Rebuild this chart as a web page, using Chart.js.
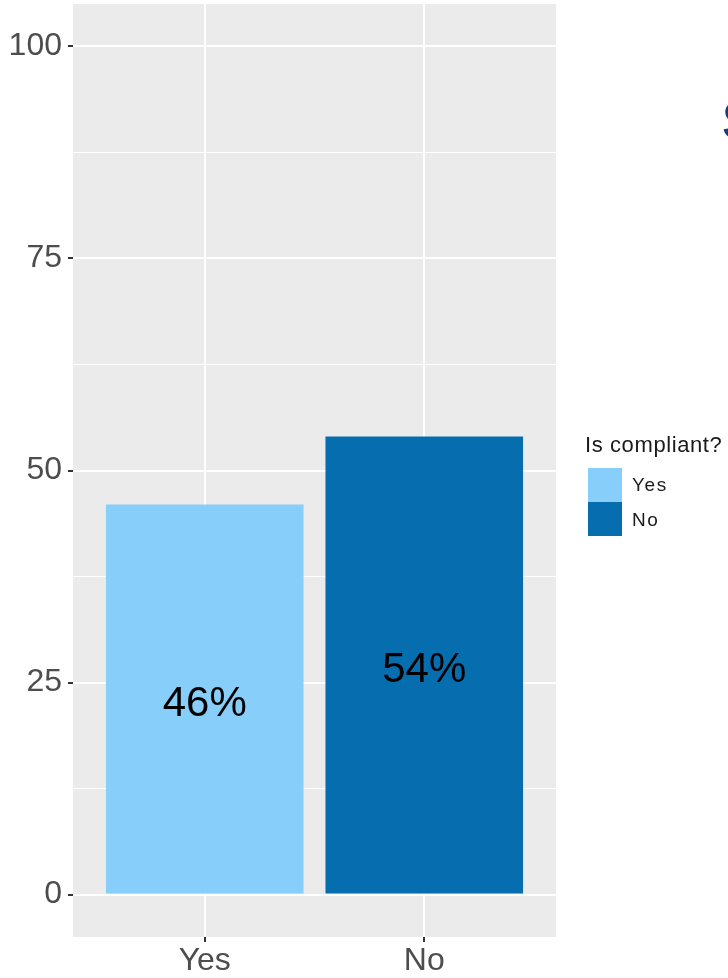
<!DOCTYPE html>
<html>
<head>
<meta charset="utf-8">
<script src="https://cdn.jsdelivr.net/npm/chart.js@4/dist/chart.umd.min.js"></script>
<style>
  html, body { margin: 0; padding: 0; background: #ffffff; }
  #wrap { position: relative; width: 728px; height: 978px; overflow: hidden; }
  #c { position: absolute; left: 0; top: 0; }
  .lg { position: absolute; font-family: "Liberation Sans", Arial, sans-serif; color: #1a1a1a; white-space: nowrap; }
  .sw { position: absolute; width: 34px; height: 34px; }
  #cut { position: absolute; left: 722px; top: 93px; font: bold 54px/54px "Liberation Sans", Arial, sans-serif; color: #1B3A7E; }
</style>
</head>
<body>
<div id="wrap">
  <canvas id="c" width="728" height="978"></canvas>
  <div id="cut">S</div>
  <div id="legend"></div>
</div>
<script>
// ---- data ----
const categories = ['Yes', 'No'];
const values = [46, 54];
const barColors = ['#87CEFA', '#066DAE'];
const legendTitle = 'Is compliant?';
const yMajorTicks = [0, 25, 50, 75, 100];
const yMinorTicks = [12.5, 37.5, 62.5, 87.5];

const FONT = '"Liberation Sans", Arial, sans-serif';

// legend (HTML)
(function () {
  const lg = document.getElementById('legend');
  const t = document.createElement('div');
  t.className = 'lg';
  t.style.cssText = 'left:585px;top:432px;font-size:22px;letter-spacing:0.6px;';
  t.textContent = legendTitle;
  lg.appendChild(t);
  categories.forEach((c, i) => {
    const s = document.createElement('div');
    s.className = 'sw';
    s.style.left = '588px';
    s.style.top = (468 + i * 34) + 'px';
    s.style.background = barColors[i];
    lg.appendChild(s);
    const l = document.createElement('div');
    l.className = 'lg';
    l.style.cssText = 'left:632px;font-size:19px;line-height:20px;letter-spacing:1.6px;';
    l.style.top = (475 + i * 35) + 'px';
    l.textContent = c;
    lg.appendChild(l);
  });
})();

const panelBg = {
  id: 'panelBg',
  beforeDraw(chart) {
    const a = chart.chartArea, ctx = chart.ctx;
    ctx.save();
    ctx.fillStyle = '#EBEBEB';
    ctx.fillRect(a.left, a.top, a.right - a.left, a.bottom - a.top);
    ctx.restore();
  }
};

const barLabels = {
  id: 'barLabels',
  afterDatasetsDraw(chart) {
    const ctx = chart.ctx, meta = chart.getDatasetMeta(0), ys = chart.scales.y;
    ctx.save();
    ctx.font = '42px ' + FONT;
    ctx.fillStyle = '#000000';
    ctx.textAlign = 'center';
    ctx.textBaseline = 'middle';
    meta.data.forEach((el, i) => {
      ctx.fillText(values[i] + '%', el.x, ys.getPixelForValue(values[i] / 2) + 5);
    });
    ctx.restore();
  }
};

const isMajor = v => yMajorTicks.includes(v);

new Chart(document.getElementById('c'), {
  type: 'bar',
  data: {
    datasets: [{
      data: values.map((v, i) => ({ x: i, y: v })),
      backgroundColor: barColors,
      borderWidth: 0,
      barPercentage: 0.9,
      categoryPercentage: 1.0
    }]
  },
  options: {
    responsive: false,
    animation: false,
    layout: { padding: { left: 0, right: 172, top: 4, bottom: 0 } },
    plugins: { legend: { display: false }, tooltip: { enabled: false } },
    scales: {
      x: {
        type: 'linear',
        min: -0.6,
        max: 1.6,
        offset: false,
        afterBuildTicks(scale) { scale.ticks = categories.map((c, i) => ({ value: i })); },
        afterFit(scale) { scale.height = 41; },
        ticks: {
          callback: (v) => categories[v],
          font: { family: FONT, size: 32 },
          color: '#4D4D4D',
          padding: 0,
          autoSkip: false,
          maxRotation: 0
        },
        grid: { offset: false, color: '#FFFFFF', lineWidth: 2, tickColor: '#333333', tickWidth: 2, tickLength: 5 },
        border: { display: false }
      },
      y: {
        min: -5,
        max: 105,
        afterBuildTicks(scale) {
          scale.ticks = yMajorTicks.concat(yMinorTicks).sort((a, b) => a - b).map(v => ({ value: v }));
        },
        afterFit(scale) { scale.width = 73; scale.paddingTop = 0; scale.paddingBottom = 0; },
        ticks: {
          callback: (v) => isMajor(v) ? String(v) : '',
          font: { family: FONT, size: 32 },
          color: '#4D4D4D',
          padding: 6,
          autoSkip: false
        },
        grid: {
          color: '#FFFFFF',
          lineWidth: (ctx) => isMajor(ctx.tick.value) ? 2 : 1,
          tickColor: (ctx) => isMajor(ctx.tick.value) ? '#333333' : 'rgba(0,0,0,0)',
          tickWidth: 2,
          tickLength: 5
        },
        border: { display: false }
      }
    }
  },
  plugins: [panelBg, barLabels]
});
</script>
</body>
</html>
